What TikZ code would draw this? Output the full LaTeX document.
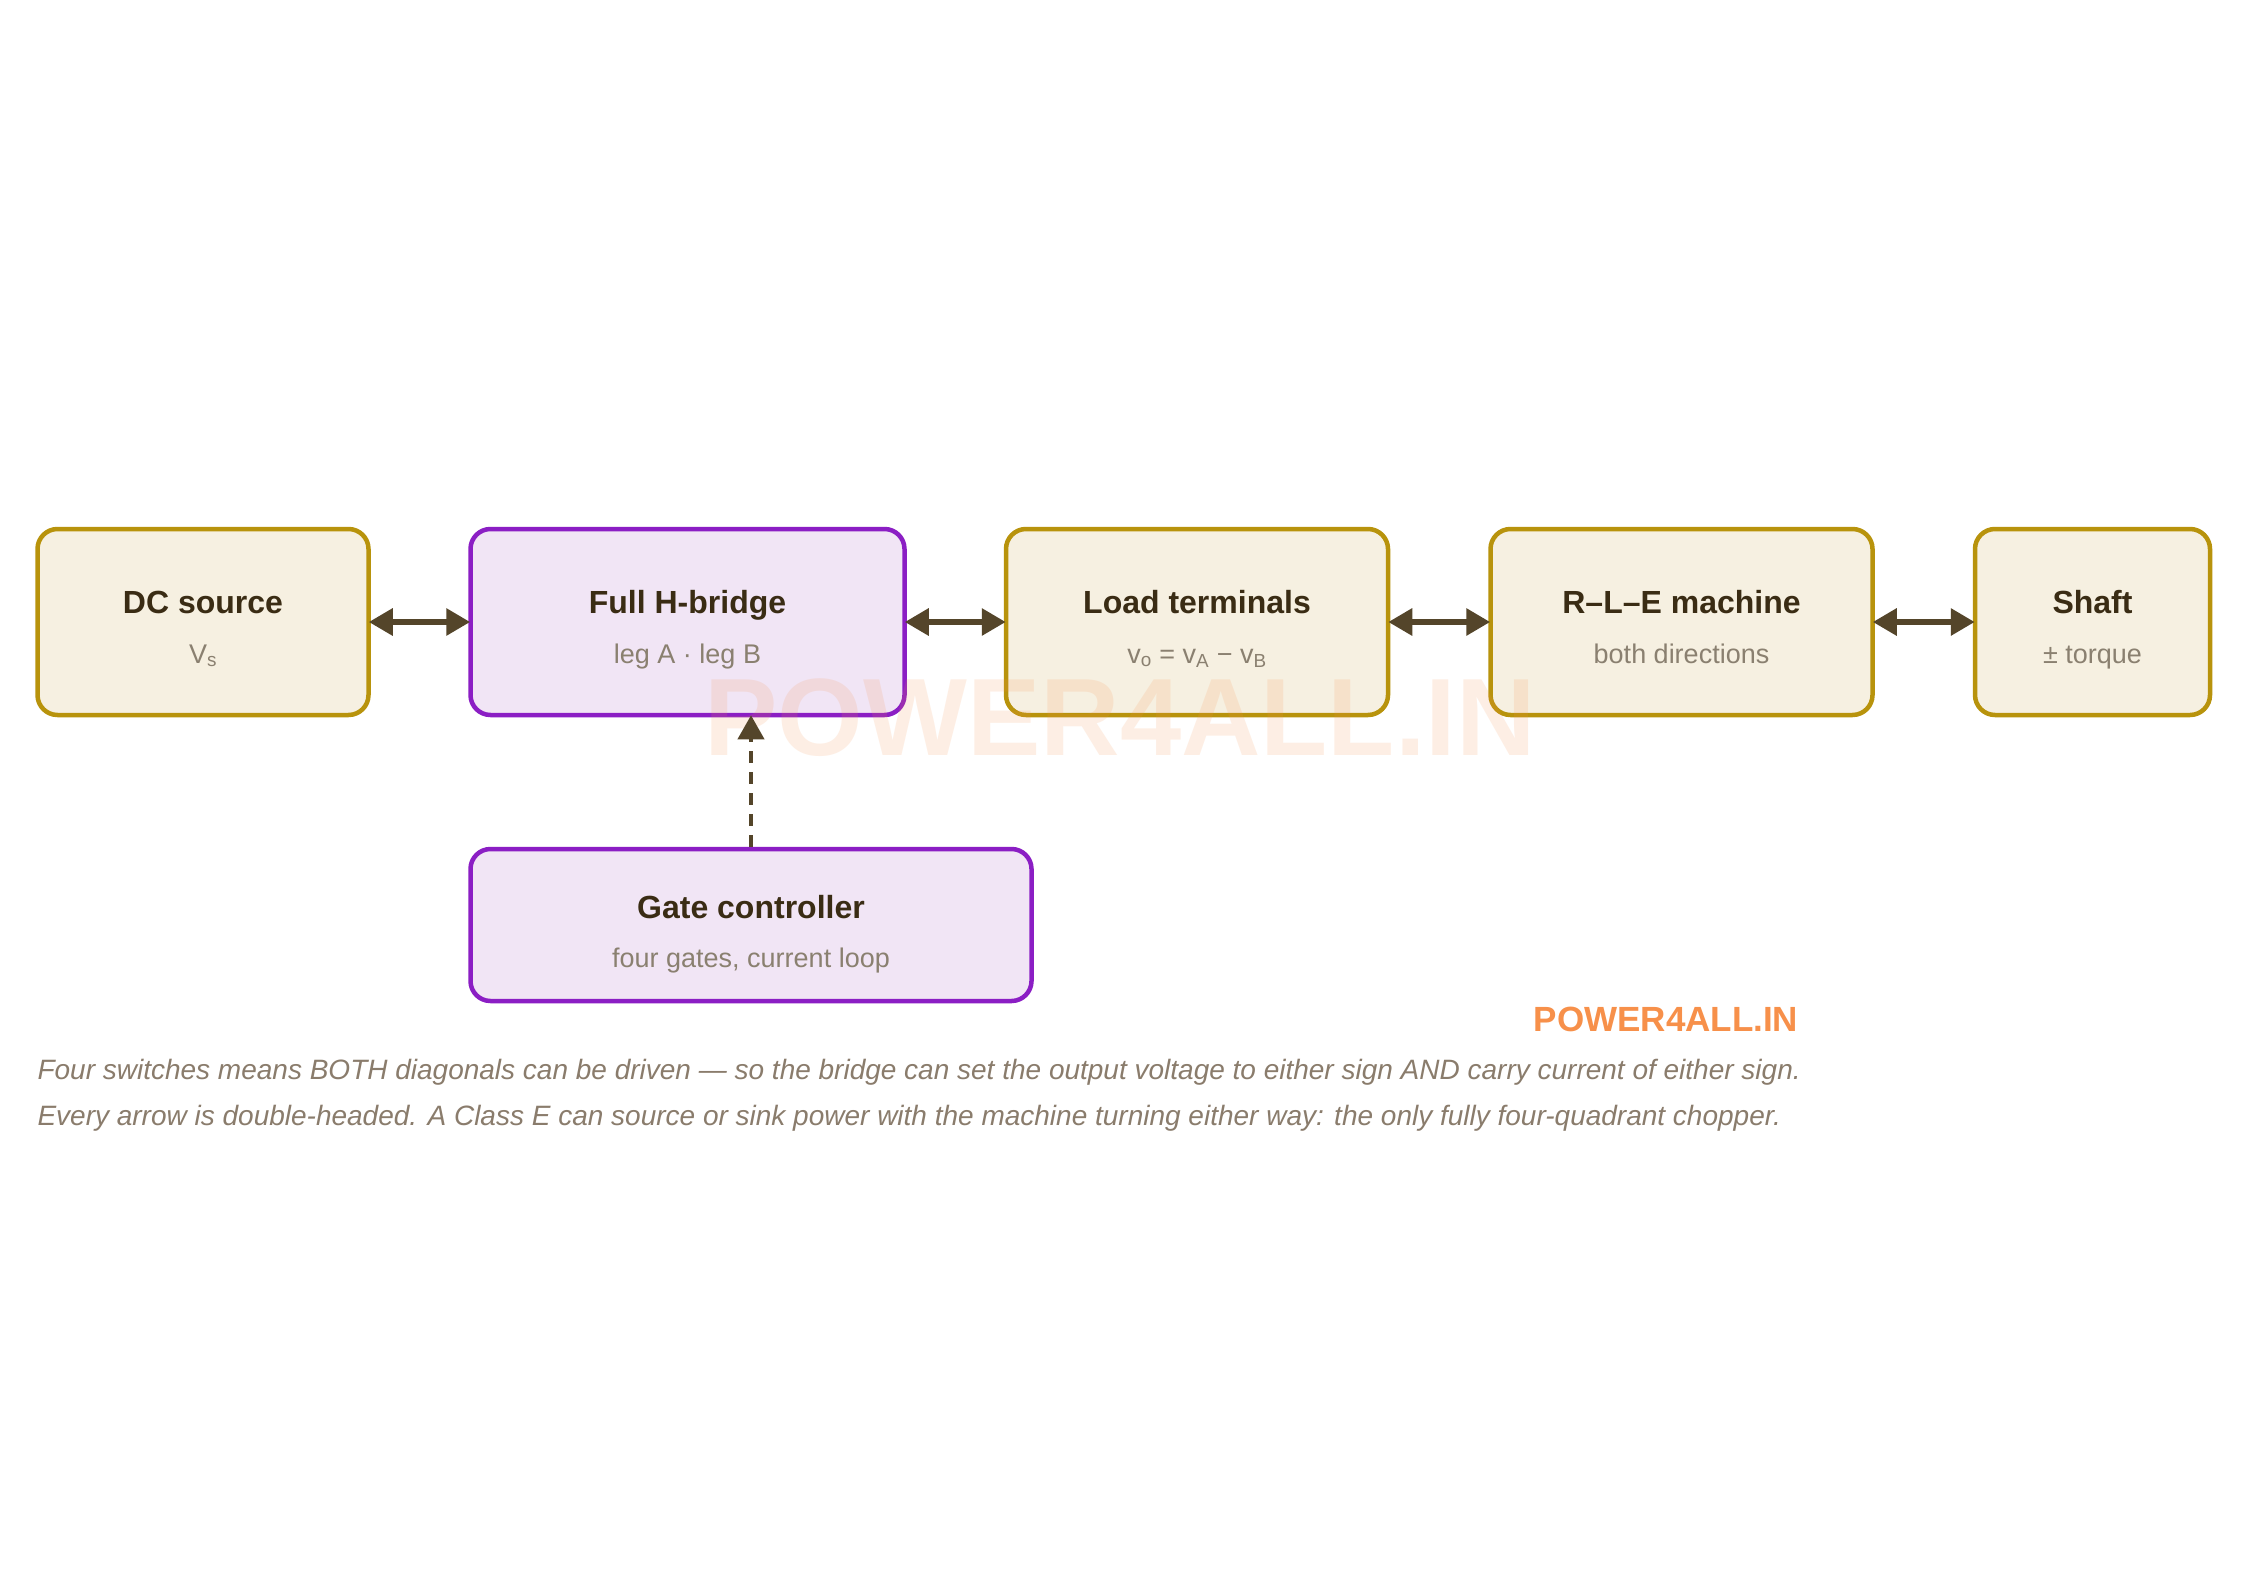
\documentclass[tikz,border=0pt]{standalone}
\usepackage{fontspec}
\setmainfont{Liberation Sans}
\usetikzlibrary{arrows.meta}
\definecolor{tanfill}{HTML}{F6F0E1}
\definecolor{tanline}{HTML}{B8930C}
\definecolor{purfill}{HTML}{F1E5F5}
\definecolor{purline}{HTML}{8B1EC4}
\definecolor{arr}{HTML}{54452A}
\definecolor{ttl}{HTML}{3A2C14}
\definecolor{sub}{HTML}{8A8070}
\definecolor{cap}{HTML}{8A7C6C}
\definecolor{logo}{HTML}{F7904A}
\begin{document}
\begin{tikzpicture}[x=1pt,y=-1pt,
  box/.style={draw=tanline,fill=tanfill,line width=4.5pt,rounded corners=20pt,inner sep=0pt},
  pbox/.style={box,draw=purline,fill=purfill},
  tt/.style={anchor=base,font=\fontsize{32}{36}\selectfont\bfseries,text=ttl},
  st/.style={anchor=base,font=\fontsize{27}{30}\selectfont,text=sub},
  dbl/.style={arr,line width=6pt,{Triangle[length=24pt,width=26pt]}-{Triangle[length=24pt,width=26pt]},shorten <=-2pt,shorten >=-2pt}]
\useasboundingbox (0,0) rectangle (2250,1592);
\fill[white] (0,0) rectangle (2250,1592);
\node[box,minimum width=331pt,minimum height=186pt] (dc) at (203,622) {};
\node[pbox,minimum width=434pt,minimum height=186pt] (hb) at (687.5,622) {};
\node[box,minimum width=382pt,minimum height=186pt] (lt) at (1197,622) {};
\node[box,minimum width=382pt,minimum height=186pt] (rle) at (1681.5,622) {};
\node[box,minimum width=235pt,minimum height=186pt] (sh) at (2092.5,622) {};
\node[pbox,minimum width=561pt,minimum height=152pt] (gc) at (751,925) {};
\node[text=logo,opacity=0.15,font=\fontsize{110}{110}\selectfont\bfseries] (wm) at (1120,718) {POWER4ALL.IN};
\node[tt] (t1) at (203,613) {DC source};
\node[st] (s1) at (203,663) {V\textsubscript{s}};
\node[tt] (t2) at (687.5,613) {Full H-bridge};
\node[st] (s2) at (687.5,663) {leg A · leg B};
\node[tt] (t3) at (1197,613) {Load terminals};
\node[st] (s3) at (1197,663) {v\textsubscript{o} = v\textsubscript{A} − v\textsubscript{B}};
\node[tt] (t4) at (1681.5,613) {R–L–E machine};
\node[st] (s4) at (1681.5,663) {both directions};
\node[tt] (t5) at (2092.5,613) {Shaft};
\node[st] (s5) at (2092.5,663) {± torque};
\node[tt] (t6) at (751,918) {Gate controller};
\node[st] (s6) at (751,967) {four gates, current loop};
\draw[dbl] (dc.east) -- (hb.west);
\draw[dbl] (hb.east) -- (lt.west);
\draw[dbl] (lt.east) -- (rle.west);
\draw[dbl] (rle.east) -- (sh.west);
\coordinate (hbin) at (gc.north |- hb.south);
\draw[arr,line width=4pt,dash pattern=on 12pt off 9pt,-{Triangle[length=24pt,width=26pt]},shorten >=-2pt] (gc.north) -- (hbin);
\node[text=logo,font=\fontsize{35}{36}\selectfont\bfseries] (lg) at (1666,1019) {POWER4ALL.IN};
\node[anchor=west,text=cap,font=\fontsize{28}{30}\selectfont\itshape] (c1) at (34,1072) {Four switches means BOTH diagonals can be driven — so the bridge can set the output voltage to either sign AND carry current of either sign.};
\node[anchor=west,text=cap,font=\fontsize{28}{30}\selectfont\itshape] (c2) at (34,1118) {Every arrow is double-headed. A Class E can source or sink power with the machine turning either way: the only fully four-quadrant chopper.};
\end{tikzpicture}
\end{document}
